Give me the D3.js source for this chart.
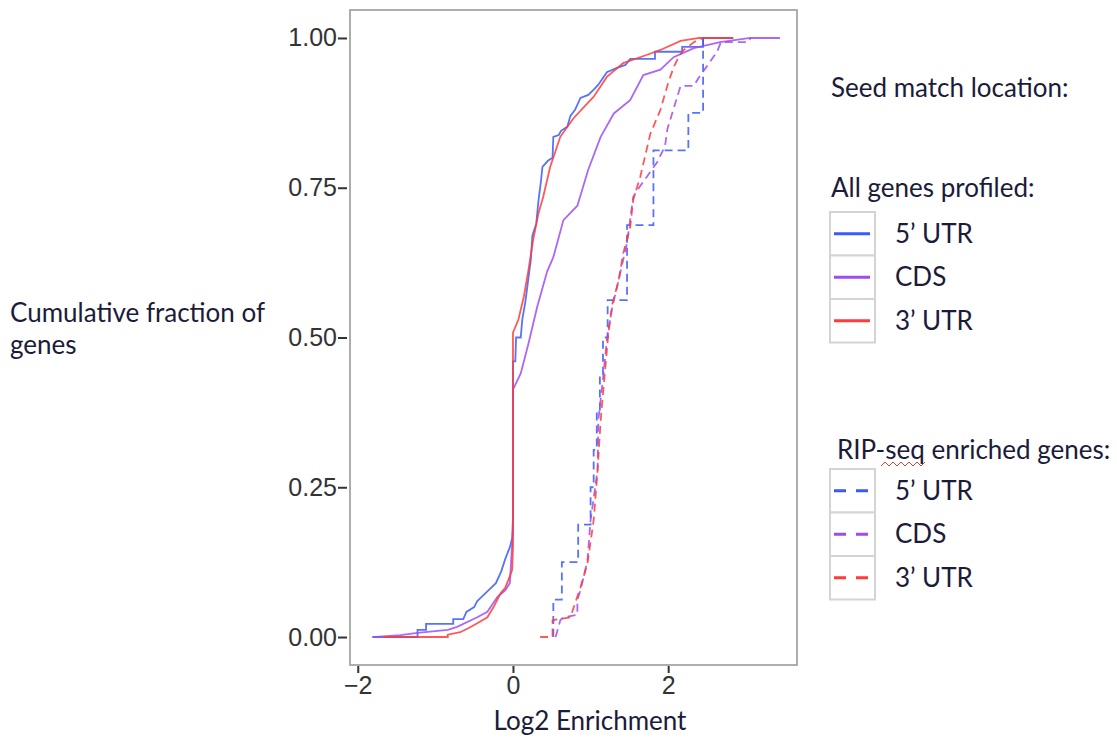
<!DOCTYPE html>
<html>
<head>
<meta charset="utf-8">
<script src="https://cdn.jsdelivr.net/npm/d3@7"></script>
<style>
  body { margin: 0; background: #fff; }
  svg { display: block; }
</style>
</head>
<body>
<div id="chart"></div>
<script>
// ECDF traces: [log2 enrichment, cumulative fraction]
const allUtr5 = [[-1.81,0],[-1.23,0],[-1.23,0.012],[-1.12,0.012],[-1.12,0.022],[-0.77,0.022],[-0.77,0.03],[-0.64,0.03],[-0.6,0.042],[-0.5,0.05],[-0.46,0.06],[-0.38,0.07],[-0.3,0.08],[-0.22,0.09],[-0.15,0.11],[-0.1,0.13],[-0.04,0.15],[-0.01,0.165],[0,0.2],[0,0.46],[0.03,0.46],[0.04,0.5],[0.1,0.5],[0.12,0.53],[0.16,0.56],[0.2,0.6],[0.23,0.63],[0.25,0.67],[0.3,0.69],[0.33,0.73],[0.36,0.76],[0.38,0.785],[0.45,0.795],[0.51,0.8],[0.52,0.835],[0.59,0.838],[0.62,0.845],[0.7,0.852],[0.74,0.87],[0.8,0.88],[0.87,0.9],[0.97,0.905],[1.05,0.915],[1.1,0.922],[1.21,0.943],[1.34,0.95],[1.45,0.955],[1.51,0.965],[1.83,0.965],[1.83,0.977],[2.18,0.977],[2.18,0.985],[2.45,0.985],[2.45,1],[2.84,1]];
const allCds = [[-1.81,0],[-1.45,0.003],[-1.23,0.007],[-0.84,0.012],[-0.72,0.017],[-0.46,0.033],[-0.33,0.042],[-0.2,0.067],[-0.1,0.078],[-0.04,0.09],[0,0.18],[0,0.413],[0.1,0.44],[0.2,0.49],[0.31,0.55],[0.44,0.61],[0.52,0.634],[0.65,0.696],[0.83,0.72],[0.93,0.763],[0.97,0.78],[1.13,0.835],[1.3,0.874],[1.51,0.896],[1.68,0.938],[1.9,0.947],[2.07,0.968],[2.33,0.983],[2.67,0.993],[3.06,1],[3.44,1]];
const allUtr3 = [[-1.67,0],[-0.84,0],[-0.84,0.004],[-0.68,0.008],[-0.57,0.015],[-0.46,0.023],[-0.33,0.033],[-0.25,0.05],[-0.16,0.073],[-0.1,0.082],[-0.06,0.095],[-0.01,0.112],[0,0.15],[0,0.508],[0.07,0.53],[0.14,0.568],[0.2,0.613],[0.26,0.663],[0.33,0.708],[0.39,0.735],[0.48,0.785],[0.61,0.835],[0.78,0.866],[1.04,0.902],[1.21,0.935],[1.42,0.958],[1.73,0.972],[1.9,0.98],[2.16,0.995],[2.4,1],[2.83,1]];
const ripUtr5 = [[0.52,0],[0.52,0.0625],[0.63,0.0625],[0.63,0.125],[0.84,0.125],[0.84,0.1875],[1.0,0.1875],[1.0,0.25],[1.04,0.25],[1.04,0.3125],[1.08,0.3125],[1.08,0.375],[1.12,0.375],[1.12,0.4375],[1.16,0.4375],[1.16,0.5],[1.22,0.5],[1.22,0.5625],[1.47,0.5625],[1.47,0.6875],[1.81,0.6875],[1.81,0.8125],[2.26,0.8125],[2.26,0.875],[2.45,0.875],[2.45,1]];
const ripCds = [[0.55,0],[0.61,0.028],[0.65,0.033],[0.83,0.037],[0.83,0.062],[0.87,0.078],[0.96,0.128],[1.0,0.195],[1.09,0.278],[1.1,0.362],[1.16,0.43],[1.21,0.496],[1.28,0.551],[1.34,0.584],[1.41,0.624],[1.47,0.658],[1.55,0.735],[1.64,0.753],[1.86,0.793],[1.96,0.82],[1.99,0.848],[2.16,0.92],[2.33,0.92],[2.41,0.937],[2.5,0.953],[2.63,0.977],[2.68,0.993],[3.03,0.993],[3.06,1]];
const ripUtr3 = [[0.35,0],[0.51,0],[0.51,0.028],[0.74,0.033],[0.87,0.083],[0.96,0.123],[1.04,0.195],[1.09,0.278],[1.13,0.362],[1.19,0.45],[1.23,0.508],[1.28,0.556],[1.36,0.594],[1.42,0.64],[1.51,0.684],[1.55,0.73],[1.64,0.768],[1.77,0.84],[1.9,0.88],[2.0,0.925],[2.07,0.951],[2.13,0.967],[2.2,0.98],[2.33,0.993],[2.45,1]];

const locations = ['5\u2019 UTR', 'CDS', '3\u2019 UTR'];
const colors = ['#3a5afc', '#9d4cf2', '#ff3b3b'];
const xTicks = [-2, 0, 2];
const yTicks = [0, 0.25, 0.5, 0.75, 1];

const series = [
    { name: locations[0], dashed: false, values: allUtr5 },
    { name: locations[1], dashed: false, values: allCds },
    { name: locations[2], dashed: false, values: allUtr3 },
    { name: locations[0], dashed: true, values: ripUtr5 },
    { name: locations[1], dashed: true, values: ripCds },
    { name: locations[2], dashed: true, values: ripUtr3 }
];

const width = 1117, height = 740;
const panel = { left: 350, right: 797, top: 10, bottom: 665 };

const svg = d3.select("#chart").append("svg")
    .attr("width", width)
    .attr("height", height);

const x = d3.scaleLinear().domain([-2.1, 3.66]).range([panel.left, panel.right]);
const y = d3.scaleLinear().domain([-0.0467, 1.0467]).range([panel.bottom, panel.top]);
const color = d3.scaleOrdinal().domain(locations).range(colors);

// panel
svg.append("rect")
    .attr("x", panel.left)
    .attr("y", panel.top)
    .attr("width", panel.right - panel.left)
    .attr("height", panel.bottom - panel.top)
    .attr("fill", "#fff")
    .attr("stroke", "#9a9a9a")
    .attr("stroke-width", 1.6);

// axes
const yAxis = svg.append("g")
    .attr("transform", `translate(${panel.left - 3},0)`)
    .call(d3.axisLeft(y).tickValues(yTicks).tickFormat(d3.format(".2f")).tickSize(9).tickPadding(1));
const xAxis = svg.append("g")
    .attr("transform", `translate(0,${panel.bottom + 1})`)
    .call(d3.axisBottom(x).tickValues(xTicks).tickFormat(d => d < 0 ? "\u2212" + Math.abs(d) : d).tickSize(7).tickPadding(3));
[yAxis, xAxis].forEach(a => {
    a.select(".domain").remove();
    a.selectAll(".tick line").attr("stroke", "#333").attr("stroke-width", 2);
    a.selectAll(".tick text")
        .attr("fill", "#333")
        .style("font-family", "'Liberation Sans', Arial, sans-serif")
        .style("font-size", "25px");
});

// lines
const line = d3.line().x(d => x(d[0])).y(d => y(d[1]));
svg.append("g")
    .selectAll("path")
    .data(series)
    .enter().append("path")
    .attr("d", d => line(d.values))
    .attr("fill", "none")
    .attr("stroke", d => color(d.name))
    .attr("stroke-width", 1.8)
    .attr("stroke-opacity", 0.85)
    .attr("stroke-dasharray", d => d.dashed ? "8,5" : null);

// titles
const titleFont = "Lato, 'Open Sans', sans-serif";
const titleSize = "26px";
const navy = "#1b1b3a";
svg.append("text")
    .attr("x", 590).attr("y", 730)
    .attr("text-anchor", "middle")
    .attr("fill", navy)
    .style("font-family", titleFont).style("font-size", titleSize)
    .text("Log2 Enrichment");
const yTitle = svg.append("text")
    .attr("fill", navy)
    .style("font-family", titleFont).style("font-size", titleSize);
yTitle.append("tspan").attr("x", 10).attr("y", 322).text("Cumulative fraction of");
yTitle.append("tspan").attr("x", 10).attr("y", 354).text("genes");

// legend
function legendText(tx, ty, str) {
    return svg.append("text")
        .attr("x", tx).attr("y", ty)
        .attr("fill", navy)
        .style("font-family", titleFont)
        .style("font-size", titleSize)
        .text(str);
}
legendText(831, 97, "Seed match location:");

function legendBlock(title, tx, ty, top, dashed) {
    legendText(tx, ty, title);
    const rowH = 43.5;
    const rows = svg.append("g").selectAll("g")
        .data(locations)
        .enter().append("g")
        .attr("transform", (d, i) => `translate(830,${top + i * rowH})`);
    rows.append("rect")
        .attr("width", 45).attr("height", rowH)
        .attr("fill", "#fff")
        .attr("stroke", "#d4d4d4")
        .attr("stroke-width", 2);
    rows.append("line")
        .attr("x1", 4).attr("x2", 40)
        .attr("y1", rowH / 2).attr("y2", rowH / 2)
        .attr("stroke", d => color(d))
        .attr("stroke-width", 3)
        .attr("stroke-dasharray", dashed ? "12,10" : null);
    rows.append("text")
        .attr("x", 65).attr("y", rowH / 2 + 9)
        .attr("fill", navy)
        .style("font-family", titleFont)
        .style("font-size", titleSize)
        .text(d => d);
}
legendBlock("All genes profiled:", 831, 197, 212, false);
legendBlock("RIP-seq enriched genes:", 837, 459, 469, true);

// spell-check squiggle under "seq"
const squiggle = d3.range(0, 12).map(i => [881 + i * 4, i % 2 ? 462 : 466]);
svg.append("path")
    .attr("d", d3.line()(squiggle))
    .attr("fill", "none")
    .attr("stroke", "#e0403a")
    .attr("stroke-width", 1);
</script>
</body>
</html>
